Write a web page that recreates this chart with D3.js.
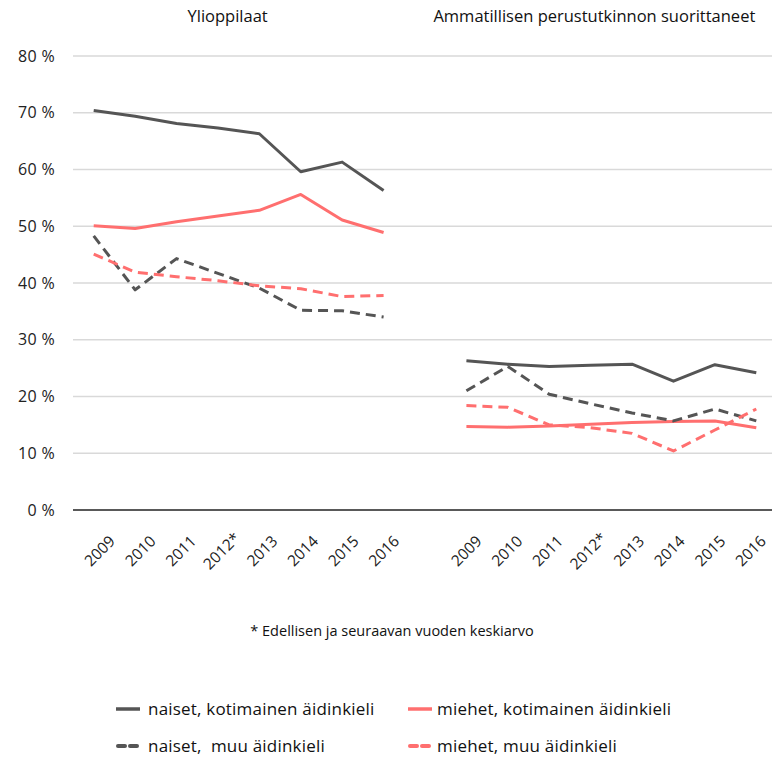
<!DOCTYPE html>
<html>
<head>
<meta charset="utf-8">
<script src="https://cdn.jsdelivr.net/npm/d3@7"></script>
<style>
  body { margin: 0; background: #fff; }
  svg { font-family: 'Open Sans', 'Noto Sans', sans-serif; }
</style>
</head>
<body>
<div id="chart"></div>
<script>
// categories: two groups of years with an empty slot between them
const years = ['2009', '2010', '2011', '2012*', '2013', '2014', '2015', '2016'];
const groups = ['Ylioppilaat', 'Ammatillisen perustutkinnon suorittaneet'];
const yTicks = [0, 10, 20, 30, 40, 50, 60, 70, 80];

// values in %, first 8 = Ylioppilaat, last 8 = Ammatillisen perustutkinnon suorittaneet
const naisetKoti = [70.4, 69.4, 68.1, 67.3, 66.3, 59.6, 61.3, 56.3,
                    26.3, 25.7, 25.3, 25.5, 25.7, 22.7, 25.6, 24.2];
const miehetKoti = [50.1, 49.6, 50.8, 51.8, 52.8, 55.6, 51.1, 48.9,
                    14.7, 14.6, 14.8, 15.1, 15.4, 15.6, 15.7, 14.5];
const naisetMuu  = [48.3, 38.8, 44.3, 41.7, 39.1, 35.2, 35.1, 34.0,
                    21.0, 25.3, 20.4, 18.7, 17.1, 15.7, 17.8, 15.7];
const miehetMuu  = [45.1, 41.9, 41.1, 40.4, 39.5, 39.0, 37.6, 37.8,
                    18.4, 18.1, 15.0, 14.5, 13.5, 10.4, 14.1, 17.8];

const seriesList = [
    { name: 'naiset, kotimainen äidinkieli', values: naisetKoti, color: '#555555', dash: null },
    { name: 'miehet, kotimainen äidinkieli', values: miehetKoti, color: '#ff6f6f', dash: null },
    { name: 'naiset,  muu äidinkieli', values: naisetMuu, color: '#555555', dash: '10,6' },
    { name: 'miehet, muu äidinkieli', values: miehetMuu, color: '#ff6f6f', dash: '10,6' }
];

const width = 772;
const height = 758;

// slot keys: g0-0..g0-7, gap, g1-0..g1-7
const slots = [];
years.forEach((y, i) => slots.push('g0-' + i));
slots.push('gap');
years.forEach((y, i) => slots.push('g1-' + i));

const x = d3.scaleBand()
    .domain(slots)
    .range([73, 777])
    .paddingInner(0)
    .paddingOuter(0);

const y = d3.scaleLinear()
    .domain([0, 80])
    .range([510, 56]);

const svg = d3.select('#chart')
    .append('svg')
    .attr('width', width)
    .attr('height', height);

const cx = key => x(key) + x.bandwidth() / 2;

// gridlines
svg.append('g')
    .selectAll('line')
    .data(yTicks.filter(d => d > 0))
    .enter().append('line')
    .attr('x1', 73)
    .attr('x2', width)
    .attr('y1', d => y(d))
    .attr('y2', d => y(d))
    .attr('stroke', '#d9d9d9')
    .attr('stroke-width', 1.5);

// zero line
svg.append('line')
    .attr('x1', 73)
    .attr('x2', width)
    .attr('y1', y(0))
    .attr('y2', y(0))
    .attr('stroke', '#222')
    .attr('stroke-width', 1.5);

// y labels
svg.append('g')
    .selectAll('text')
    .data(yTicks)
    .enter().append('text')
    .attr('x', 55)
    .attr('y', d => y(d))
    .attr('dy', '0.35em')
    .attr('text-anchor', 'end')
    .attr('font-size', 16)
    .attr('letter-spacing', 0.3)
    .attr('fill', '#222')
    .text(d => d + ' %');

// x labels
[0, 1].forEach(g => {
    svg.append('g')
        .selectAll('text')
        .data(years)
        .enter().append('text')
        .attr('transform', (d, i) => `translate(${cx('g' + g + '-' + i) + 6 - (g * 6 + i * 0.8)},551) rotate(-45)`)
        .attr('text-anchor', 'middle')
        .attr('dy', '0.35em')
        .attr('font-size', 15.5)
        .attr('fill', '#222')
        .text(d => d);
});

// group titles
groups.forEach((t, g) => {
    const a = cx('g' + g + '-0');
    const b = cx('g' + g + '-7');
    svg.append('text')
        .attr('x', g === 0 ? (a + b) / 2 - 11 : (a + b) / 2 - 17)
        .attr('y', 22)
        .attr('text-anchor', 'middle')
        .attr('font-size', 16.5)
        .attr('fill', '#111')
        .text(t);
});

// lines
const line = d3.line()
    .x(d => cx(d.key))
    .y(d => y(d.v));

seriesList.forEach(s => {
    [0, 1].forEach(g => {
        const pts = years.map((yr, i) => ({ key: 'g' + g + '-' + i, v: s.values[g * 8 + i] }));
        svg.append('path')
            .datum(pts)
            .attr('d', line)
            .attr('fill', 'none')
            .attr('stroke', s.color)
            .attr('stroke-width', 3)
            .attr('stroke-dasharray', s.dash)
            .attr('stroke-linejoin', 'round');
    });
});

// footnote
svg.append('text')
    .attr('x', 392)
    .attr('y', 636)
    .attr('text-anchor', 'middle')
    .attr('font-size', 14.5)
    .attr('fill', '#111')
    .text('* Edellisen ja seuraavan vuoden keskiarvo');

// legend
const legendPos = [
    { x: 116, y: 709 },
    { x: 408, y: 709 },
    { x: 116, y: 746 },
    { x: 408, y: 746 }
];

seriesList.forEach((s, i) => {
    const p = legendPos[i];
    const lg = svg.append('g').attr('transform', `translate(${p.x},${p.y})`);
    if (s.dash) {
        lg.append('line').attr('x1', 2).attr('x2', 9).attr('y1', 0).attr('y2', 0)
            .attr('stroke', s.color).attr('stroke-width', 4).attr('stroke-linecap', 'round');
        lg.append('line').attr('x1', 14).attr('x2', 21).attr('y1', 0).attr('y2', 0)
            .attr('stroke', s.color).attr('stroke-width', 4).attr('stroke-linecap', 'round');
    } else {
        lg.append('line').attr('x1', 0).attr('x2', 24).attr('y1', 0).attr('y2', 0)
            .attr('stroke', s.color).attr('stroke-width', 3.5);
    }
    lg.append('text')
        .attr('x', i % 2 === 0 ? 32 : 29)
        .attr('y', 0)
        .attr('dy', '0.35em')
        .attr('font-size', 17)
        .attr('letter-spacing', 0.2)
        .style('white-space', 'pre')
        .attr('fill', '#111')
        .text(s.name);
});
</script>
</body>
</html>
